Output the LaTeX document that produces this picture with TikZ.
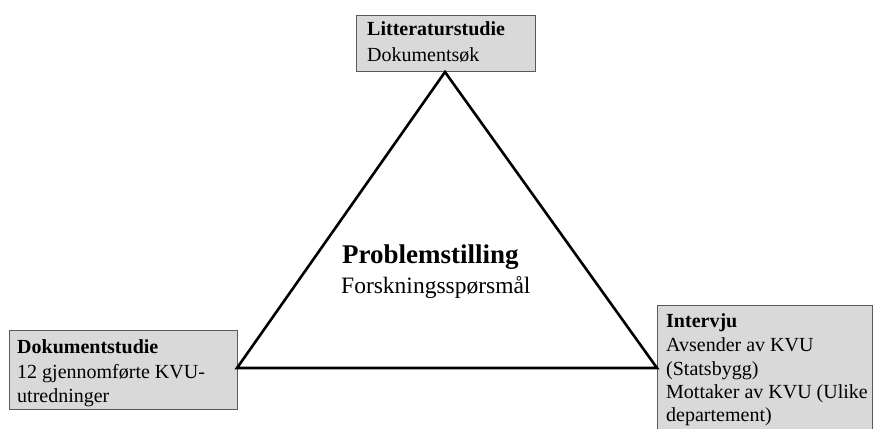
\documentclass[tikz,border=0pt]{standalone}
\usepackage{fontspec}
\setmainfont{Liberation Serif}
\definecolor{boxfill}{HTML}{D9D9D9}
\definecolor{boxline}{HTML}{595959}
\begin{document}
\begin{tikzpicture}[x=1pt,y=-1pt,
  box/.style={draw=boxline, line width=1pt, fill=boxfill, rectangle, inner sep=0pt, anchor=north west},
  txt/.style={inner sep=0pt, anchor=base west, font=\fontsize{20}{25}\selectfont},
  tri/.style={line width=2.6pt, line join=miter}]
\useasboundingbox (0,0) rectangle (874,428);
\begin{scope}
\clip (0,0) rectangle (874,428);
% boxes
\node[box, minimum width=179pt, minimum height=56pt] (lit) at (356,15) {};
\node[box, minimum width=228pt, minimum height=79pt] (dok) at (9,330) {};
\node[box, minimum width=215pt, minimum height=130pt] (int) at (657,305) {};
% triangle corners
\coordinate (top) at (445,72);
\coordinate (left) at (237,368);
\coordinate (right) at (657,368);
\draw[tri] (top) -- (left) -- (right) -- cycle;
% texts
\node[txt] (lit1) at (367,36) {\textbf{Litteraturstudie}};
\node[txt] (lit2) at (367,62) {Dokumentsøk};
\node[txt] (dok1) at (17,353) {\textbf{Dokumentstudie}};
\node[txt] (dok2) at (17,378) {12 gjennomførte KVU-};
\node[txt] (dok3) at (17,402) {utredninger};
\node[txt] (int1) at (666,327) {\textbf{Intervju}};
\node[txt] (int2) at (666,351) {Avsender av KVU};
\node[txt] (int3) at (666,375) {(Statsbygg)};
\node[txt] (int4) at (666,398) {Mottaker av KVU (Ulike};
\node[txt] (int5) at (666,421) {departement)};
\node[inner sep=0pt, anchor=base west, font=\fontsize{27}{30}\selectfont\bfseries] (prob) at (342,263) {Problemstilling};
\node[inner sep=0pt, anchor=base west, font=\fontsize{23.5}{28}\selectfont] (forsk) at (341,293) {Forskningsspørsmål};
\end{scope}
\end{tikzpicture}
\end{document}
